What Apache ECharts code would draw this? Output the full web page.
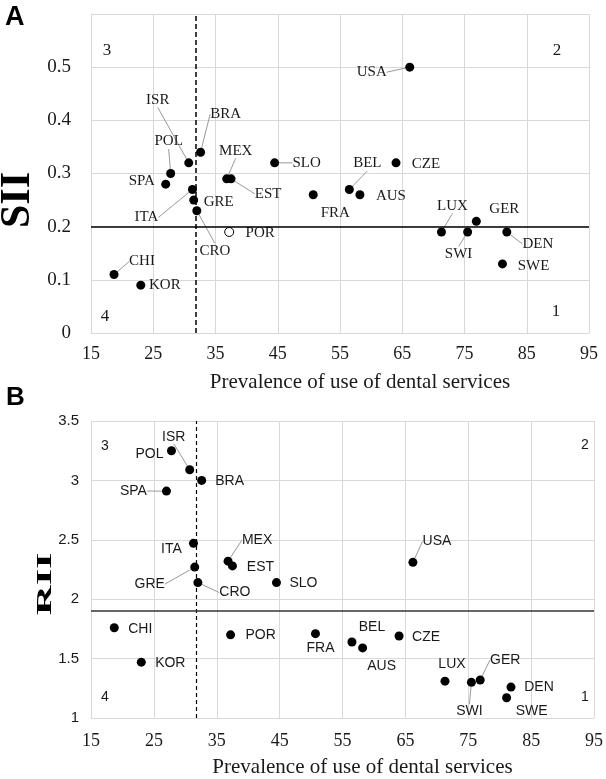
<!DOCTYPE html>
<html><head><meta charset="utf-8">
<script src="https://cdn.jsdelivr.net/npm/echarts@6/dist/echarts.min.js"></script>
<style>html,body{margin:0;padding:0;background:#fff}#c{width:606px;height:779px}</style>
</head><body><div id="c"></div>
<script>
// ---- data ----
const countries  = ['CHI','KOR','SPA','POL','ISR','ITA','GRE','CRO','BRA','MEX','POR','EST','SLO','FRA','BEL','AUS','CZE','USA','LUX','SWI','GER','SWE','DEN'];
const prevalence = [18.7, 23.0, 27.0, 27.8, 30.7, 31.3, 31.5, 32.0, 32.6, 36.8, 37.2, 37.5, 44.5, 50.7, 56.5, 58.2, 64.0, 66.2, 71.3, 75.5, 76.9, 81.1, 81.8];
const sii        = [0.11, 0.09, 0.28, 0.30, 0.32, 0.27, 0.25, 0.23, 0.34, 0.29, 0.19, 0.29, 0.32, 0.26, 0.27, 0.26, 0.32, 0.50, 0.19, 0.19, 0.21, 0.13, 0.19];
const rii        = [1.76, 1.47, 2.91, 3.25, 3.09, 2.47, 2.27, 2.14, 3.00, 2.32, 1.70, 2.28, 2.14, 1.71, 1.64, 1.59, 1.69, 2.31, 1.31, 1.30, 1.32, 1.17, 1.26];
const prevalenceCut = 31.8;
const siiCut = 0.2;
const riiCut = 1.9;
const xTitle = 'Prevalence of use of dental services';
const quadrants = ['1','2','3','4'];

// ---- styling: label offsets [dx, dy, leaderLine] ----
const offA = {ISR:[-31,-63,1],BRA:[25,-38,1],POL:[-2,-32,1],SPA:[-24,-3,0],MEX:[9,-28,1],EST:[37,15,1],SLO:[32,0,1],
  ITA:[-46,28,1],GRE:[25,2,0],CRO:[18,40,1],POR:[31,1,0],CHI:[28,-13,1],KOR:[24,0,0],USA:[-38,5,1],FRA:[22,18,0],
  BEL:[18,-26,1],AUS:[31,1,0],CZE:[30,1,0],LUX:[11,-26,1],GER:[28,-12,0],SWI:[-9,22,1],DEN:[31,12,1],SWE:[31,2,0]};
const offB = {POL:[-22,3,0],ISR:[-16,-33,1],BRA:[28,1,0],SPA:[-33,0,1],ITA:[-22,6,0],MEX:[29,-21,1],EST:[28,1,0],
  GRE:[-45,17,1],CRO:[37,10,1],SLO:[27,1,0],CHI:[26,1,0],KOR:[29,1,0],POR:[30,0,0],USA:[24,-21,1],FRA:[5,14,0],
  BEL:[20,-15,0],AUS:[19,18,0],CZE:[27,1,0],LUX:[7,-17,0],GER:[25,-20,1],SWI:[-2,29,1],DEN:[28,0,0],SWE:[25,13,0]};
const hollowA = ['POR'];

const SERIF = '"Liberation Serif", "Times New Roman", serif';
const SANS = '"Liberation Sans", Arial, sans-serif';
const GRID = '#d9d9d9';

function mkData(yv, off, hollow) {
  return countries.map((c, i) => {
    const d = {name: c, value: [prevalence[i], yv[i]], labelLine: {show: !!off[c][2]}};
    if (hollow.indexOf(c) >= 0) d.itemStyle = {color: '#fff', borderColor: '#000', borderWidth: 1, opacity: 1};
    return d;
  });
}

function xAx(gi) {
  return {
    gridIndex: gi, type: 'value', min: 15, max: 95, interval: 10,
    name: xTitle, nameLocation: 'middle', nameGap: 39,
    nameTextStyle: {fontFamily: SERIF, fontSize: 21, color: '#1a1a1a', padding: [0, 0, 0, 40]},
    axisLine: {show: true, lineStyle: {color: GRID}}, axisTick: {show: false},
    axisLabel: {fontFamily: SERIF, fontSize: 18, color: '#1a1a1a', margin: gi === 0 ? 12 : 14},
    splitLine: {show: true, lineStyle: {color: GRID}}
  };
}

const chart = echarts.init(document.getElementById('c'), null, {renderer: 'canvas'});
chart.setOption({
  animation: false,
  backgroundColor: '#fff',
  grid: [
    {left: 91, top: 14, width: 498, height: 319},
    {left: 91, top: 421, width: 508, height: 299}
  ],
  xAxis: [xAx(0), xAx(1)],
  yAxis: [
    {gridIndex: 0, type: 'value', min: 0, max: 0.6, interval: 0.1,
     axisLine: {show: true, lineStyle: {color: GRID}}, axisTick: {show: false},
     axisLabel: {fontFamily: SERIF, fontSize: 19, color: '#1a1a1a', margin: 20,
       formatter: v => (Math.abs(v - 0.6) < 1e-9 ? '' : String(Math.round(v * 10) / 10))},
     splitLine: {show: true, lineStyle: {color: GRID}}},
    {gridIndex: 1, type: 'value', min: 1, max: 3.5, interval: 0.5,
     axisLine: {show: true, lineStyle: {color: GRID}}, axisTick: {show: false},
     axisLabel: {fontFamily: SANS, fontSize: 15, color: '#1a1a1a', margin: 12},
     splitLine: {show: true, lineStyle: {color: GRID}}}
  ],
  series: [
    {
      type: 'scatter', xAxisIndex: 0, yAxisIndex: 0, symbolSize: 9, z: 3,
      itemStyle: {color: '#000', opacity: 1},
      data: mkData(sii, offA, hollowA),
      label: {show: true, position: 'inside', formatter: '{b}', fontFamily: SERIF, fontSize: 15, color: '#1a1a1a'},
      labelLine: {show: false, lineStyle: {color: '#999', width: 1}},
      labelLayout: p => { const o = offA[countries[p.dataIndex]]; return {dx: o[0], dy: o[1]}; },
      markLine: {silent: true, symbol: 'none', label: {show: false}, animation: false,
        data: [
          {xAxis: prevalenceCut, lineStyle: {type: [5, 3], color: '#000', width: 1.5}},
          {yAxis: siiCut, lineStyle: {type: 'solid', color: '#000', width: 1.5}}
        ]}
    },
    {
      type: 'scatter', xAxisIndex: 1, yAxisIndex: 1, symbolSize: 9, z: 3,
      itemStyle: {color: '#000', opacity: 1},
      data: mkData(rii, offB, []),
      label: {show: true, position: 'inside', formatter: '{b}', fontFamily: SANS, fontSize: 14, color: '#1a1a1a'},
      labelLine: {show: false, lineStyle: {color: '#999', width: 1}},
      labelLayout: p => { const o = offB[countries[p.dataIndex]]; return {dx: o[0], dy: o[1]}; },
      markLine: {silent: true, symbol: 'none', label: {show: false}, animation: false,
        data: [
          {xAxis: prevalenceCut, lineStyle: {type: [4, 3], color: '#000', width: 1.2}},
          {yAxis: riiCut, lineStyle: {type: 'solid', color: '#333', width: 1.5}}
        ]}
    }
  ],
  graphic: [
    {type: 'text', left: 5, top: 4, style: {text: 'A', font: 'bold 27px ' + SANS, fill: '#000'}},
    {type: 'text', left: 6, top: 385, style: {text: 'B', font: 'bold 26px ' + SANS, fill: '#000'}},
    {type: 'text', x: 18, y: 200, rotation: Math.PI / 2,
     style: {text: 'SII', font: 'bold 42px ' + SERIF, fill: '#000', align: 'center', verticalAlign: 'middle'}},
    {type: 'text', x: 45, y: 584, rotation: Math.PI / 2, scaleX: 1.9,
     style: {text: 'RII', font: 'bold 22px ' + SERIF, fill: '#000', align: 'center', verticalAlign: 'middle'}},
    {type: 'text', x: 107, y: 51, style: {text: quadrants[2], font: '17px ' + SERIF, fill: '#1a1a1a', align: 'center', verticalAlign: 'middle'}},
    {type: 'text', x: 557, y: 51, style: {text: quadrants[1], font: '17px ' + SERIF, fill: '#1a1a1a', align: 'center', verticalAlign: 'middle'}},
    {type: 'text', x: 105, y: 317, style: {text: quadrants[3], font: '17px ' + SERIF, fill: '#1a1a1a', align: 'center', verticalAlign: 'middle'}},
    {type: 'text', x: 556, y: 312, style: {text: quadrants[0], font: '17px ' + SERIF, fill: '#1a1a1a', align: 'center', verticalAlign: 'middle'}},
    {type: 'text', x: 105, y: 446, style: {text: quadrants[2], font: '14px ' + SANS, fill: '#1a1a1a', align: 'center', verticalAlign: 'middle'}},
    {type: 'text', x: 585, y: 445, style: {text: quadrants[1], font: '14px ' + SANS, fill: '#1a1a1a', align: 'center', verticalAlign: 'middle'}},
    {type: 'text', x: 105, y: 697, style: {text: quadrants[3], font: '14px ' + SANS, fill: '#1a1a1a', align: 'center', verticalAlign: 'middle'}},
    {type: 'text', x: 585, y: 697, style: {text: quadrants[0], font: '14px ' + SANS, fill: '#1a1a1a', align: 'center', verticalAlign: 'middle'}}
  ]
});
</script></body></html>
